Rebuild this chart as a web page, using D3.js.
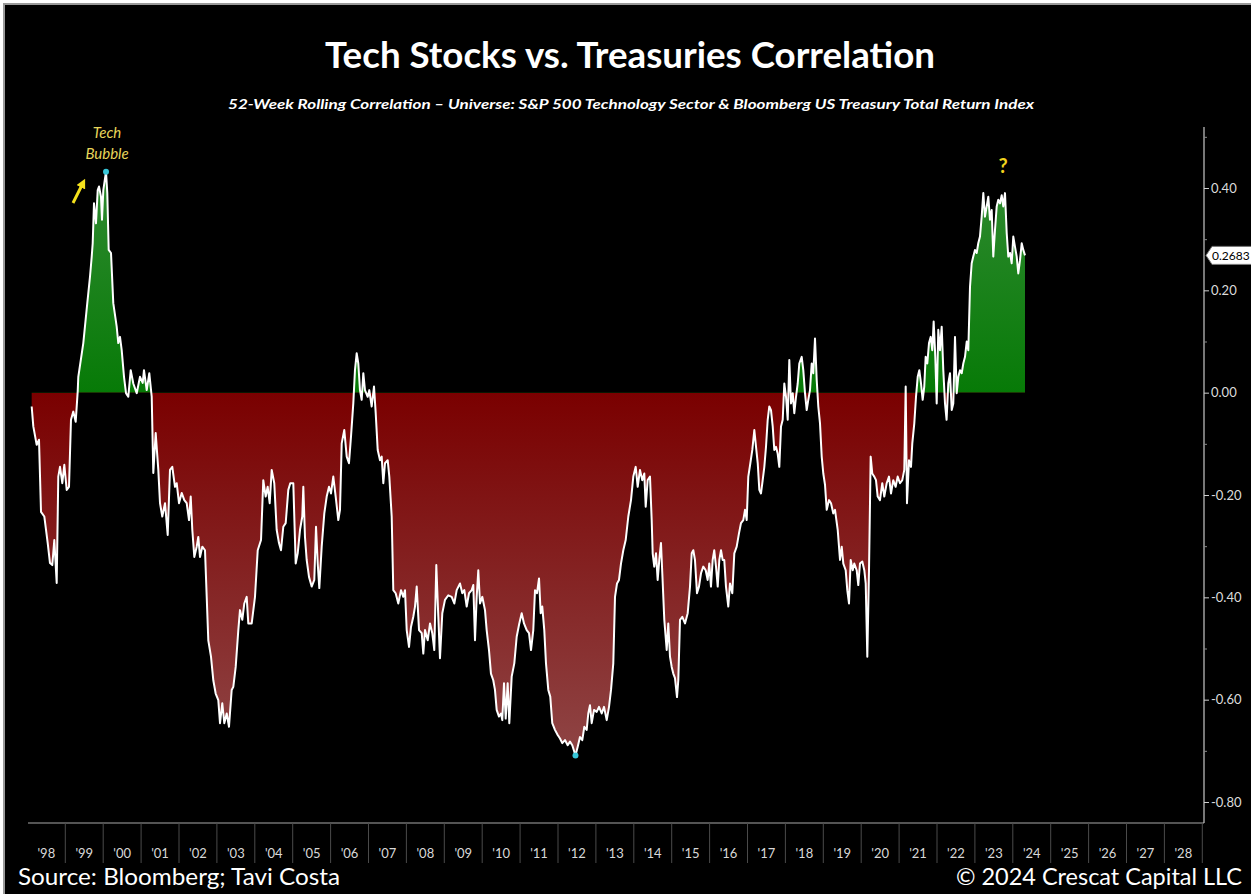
<!DOCTYPE html>
<html>
<head>
<meta charset="utf-8">
<script src="https://cdn.jsdelivr.net/npm/d3@7"></script>
<style>
  html, body { margin: 0; padding: 0; background: #ffffff; }
  svg { display: block; }
</style>
</head>
<body>
<svg id="chart" width="1251" height="894"></svg>
<script>
// 52-week rolling correlation, S&P 500 Tech sector vs. Bloomberg US Treasury TR index.
// Observation times as fractional years, one row per calendar year.
const yearPos = [
  1998.113,1998.156,1998.245,1998.306,1998.359,1998.446,1998.536,1998.596,1998.657,1998.710,1998.773,1998.815,1998.860,1998.921,1998.974,
  1999.037,1999.098,1999.150,1999.211,1999.274,1999.327,1999.343,1999.475,1999.580,1999.652,1999.697,1999.723,1999.757,1999.810,1999.855,1999.889,1999.942,1999.968,
  2000.003,2000.074,2000.108,2000.145,2000.206,2000.266,2000.356,2000.398,2000.443,2000.488,2000.549,2000.602,2000.662,2000.726,2000.794,2000.884,2000.971,
  2001.042,2001.076,2001.148,2001.216,2001.280,2001.322,2001.385,2001.454,2001.499,2001.559,2001.631,2001.702,2001.762,2001.823,2001.894,2001.939,
  2002.000,2002.071,2002.140,2002.203,2002.264,2002.309,2002.351,2002.404,2002.467,2002.509,2002.554,2002.615,2002.686,2002.731,2002.773,2002.844,2002.905,2002.968,
  2003.037,2003.082,2003.142,2003.195,2003.259,2003.319,2003.390,2003.433,2003.496,2003.565,2003.609,2003.670,2003.723,2003.786,2003.828,2003.918,
  2004.005,2004.077,2004.164,2004.224,2004.287,2004.340,2004.393,2004.446,2004.514,2004.577,2004.638,2004.691,2004.752,2004.815,2004.884,2004.936,
  2005.016,2005.079,2005.132,2005.193,2005.253,2005.280,2005.324,2005.369,2005.430,2005.501,2005.570,2005.615,2005.660,2005.702,2005.765,2005.834,2005.897,2005.958,
  2006.011,2006.071,2006.134,2006.203,2006.248,2006.293,2006.361,2006.425,2006.485,2006.538,2006.599,2006.643,2006.688,2006.731,2006.775,2006.820,2006.863,2006.907,2006.979,
  2007.021,2007.084,2007.145,2007.190,2007.243,2007.304,2007.348,2007.391,2007.435,2007.506,2007.549,2007.612,2007.654,2007.717,2007.786,2007.857,2007.918,2007.963,
  2008.008,2008.069,2008.121,2008.182,2008.227,2008.272,2008.333,2008.404,2008.446,2008.491,2008.562,2008.623,2008.683,2008.736,2008.789,2008.842,2008.886,2008.947,
  2009.018,2009.105,2009.195,2009.264,2009.327,2009.414,2009.475,2009.528,2009.591,2009.652,2009.723,2009.765,2009.810,2009.855,2009.897,2009.942,
  2010.002,2010.074,2010.118,2010.179,2010.231,2010.292,2010.337,2010.382,2010.443,2010.496,2010.530,2010.575,2010.620,2010.672,2010.715,2010.778,2010.847,2010.910,2010.979,
  2011.042,2011.103,2011.174,2011.235,2011.288,2011.348,2011.393,2011.446,2011.499,2011.543,2011.585,2011.638,2011.683,2011.744,2011.796,2011.849,2011.920,2011.992,
  2012.053,2012.113,2012.184,2012.256,2012.316,2012.377,2012.461,2012.520,2012.580,2012.641,2012.694,2012.757,2012.799,2012.844,2012.889,2012.950,
  2013.021,2013.082,2013.153,2013.214,2013.285,2013.346,2013.399,2013.459,2013.504,2013.557,2013.609,2013.662,2013.723,2013.786,2013.855,2013.926,2013.987,
  2014.050,2014.103,2014.163,2014.224,2014.277,2014.314,2014.366,2014.427,2014.472,2014.498,2014.540,2014.586,2014.630,2014.672,2014.717,2014.752,2014.805,2014.868,2014.910,2014.955,
  2015.000,2015.042,2015.087,2015.140,2015.174,2015.219,2015.280,2015.351,2015.422,2015.483,2015.528,2015.570,2015.614,2015.667,2015.720,2015.773,2015.833,2015.897,2015.949,2015.991,
  2016.036,2016.081,2016.123,2016.169,2016.214,2016.256,2016.301,2016.345,2016.387,2016.432,2016.493,2016.538,2016.599,2016.652,2016.715,2016.775,2016.828,2016.889,2016.934,2016.979,
  2017.021,2017.075,2017.127,2017.180,2017.225,2017.270,2017.312,2017.356,2017.401,2017.444,2017.488,2017.533,2017.575,2017.620,2017.665,2017.707,2017.752,2017.796,2017.839,2017.884,2017.929,2017.971,
  2018.016,2018.061,2018.103,2018.148,2018.193,2018.235,2018.280,2018.325,2018.367,2018.430,2018.472,2018.517,2018.562,2018.604,2018.649,2018.694,2018.736,2018.781,2018.826,2018.868,2018.913,2018.958,
  2019.000,2019.045,2019.090,2019.151,2019.204,2019.264,2019.309,2019.380,2019.441,2019.486,2019.528,2019.591,2019.633,2019.678,2019.723,2019.776,2019.818,2019.881,2019.923,2019.968,
  2020.029,2020.082,2020.119,2020.161,2020.206,2020.250,2020.292,2020.345,2020.390,2020.435,2020.495,2020.556,2020.609,2020.672,2020.733,2020.786,2020.846,2020.909,2020.962,
  2021.023,2021.084,2021.137,2021.174,2021.208,2021.261,2021.314,2021.348,2021.401,2021.446,2021.491,2021.533,2021.578,2021.622,2021.664,2021.701,2021.744,2021.789,2021.833,2021.875,2021.912,2021.955,2021.992,
  2022.034,2022.079,2022.124,2022.166,2022.211,2022.253,2022.298,2022.343,2022.388,2022.430,2022.475,2022.520,2022.562,2022.607,2022.652,2022.694,2022.739,2022.784,2022.826,2022.871,2022.915,2022.957,
  2023.002,2023.047,2023.089,2023.134,2023.179,2023.222,2023.266,2023.311,2023.354,2023.398,2023.443,2023.485,2023.530,2023.575,2023.617,2023.662,2023.707,2023.749,2023.794,2023.839,2023.881,2023.926,2023.971,
  2024.013,2024.058,2024.103,2024.145,2024.190,2024.235,2024.277,2024.322
];

// Correlation readings, same row layout as yearPos.
const correlation = [
  -0.027,-0.066,-0.102,-0.092,-0.233,-0.242,-0.294,-0.333,-0.337,-0.288,-0.372,-0.164,-0.145,-0.177,-0.141,
  -0.190,-0.184,-0.053,-0.037,-0.057,0.002,0.031,0.097,0.175,0.227,0.266,0.292,0.370,0.331,0.396,0.403,0.383,0.338,
  0.396,0.432,0.390,0.279,0.273,0.175,0.129,0.097,0.109,0.083,0.031,-0.001,-0.008,0.044,0.018,-0.001,0.031,
  0.019,0.044,0.005,0.038,-0.008,-0.157,-0.079,-0.151,-0.216,-0.242,-0.216,-0.278,-0.151,-0.145,-0.184,-0.177,
  -0.216,-0.196,-0.210,-0.216,-0.249,-0.203,-0.268,-0.321,-0.301,-0.282,-0.321,-0.301,-0.308,-0.399,-0.484,-0.516,-0.562,-0.588,
  -0.601,-0.646,-0.607,-0.646,-0.627,-0.653,-0.581,-0.575,-0.536,-0.464,-0.425,-0.444,-0.412,-0.399,-0.451,-0.451,
  -0.399,-0.308,-0.288,-0.171,-0.203,-0.184,-0.216,-0.151,-0.177,-0.268,-0.294,-0.308,-0.262,-0.255,-0.190,-0.177,
  -0.177,-0.334,-0.314,-0.268,-0.242,-0.184,-0.282,-0.327,-0.360,-0.379,-0.366,-0.262,-0.334,-0.382,-0.301,-0.236,-0.203,-0.184,
  -0.197,-0.164,-0.203,-0.249,-0.229,-0.099,-0.073,-0.125,-0.138,-0.086,-0.021,0.044,0.077,0.057,0.005,-0.014,0.038,0.005,-0.008,
  0.005,-0.027,0.012,-0.040,-0.112,-0.132,-0.125,-0.177,-0.138,-0.132,-0.164,-0.242,-0.386,-0.392,-0.412,-0.386,-0.399,-0.386,
  -0.464,-0.497,-0.458,-0.438,-0.418,-0.379,-0.464,-0.470,-0.510,-0.464,-0.484,-0.451,-0.470,-0.503,-0.337,-0.438,-0.519,-0.431,
  -0.405,-0.396,-0.399,-0.412,-0.386,-0.373,-0.392,-0.386,-0.418,-0.392,-0.386,-0.376,-0.484,-0.399,-0.347,-0.412,
  -0.399,-0.425,-0.464,-0.503,-0.549,-0.562,-0.581,-0.620,-0.633,-0.627,-0.640,-0.568,-0.637,-0.568,-0.646,-0.555,-0.529,-0.477,-0.451,
  -0.431,-0.451,-0.464,-0.470,-0.503,-0.464,-0.386,-0.392,-0.363,-0.431,-0.418,-0.464,-0.529,-0.581,-0.594,-0.646,-0.659,-0.669,
  -0.676,-0.685,-0.679,-0.689,-0.682,-0.689,-0.709,-0.692,-0.673,-0.679,-0.653,-0.659,-0.627,-0.611,-0.646,-0.620,
  -0.624,-0.614,-0.627,-0.614,-0.640,-0.614,-0.581,-0.529,-0.399,-0.373,-0.366,-0.334,-0.308,-0.288,-0.242,-0.210,-0.164,
  -0.145,-0.184,-0.151,-0.171,-0.158,-0.223,-0.171,-0.164,-0.249,-0.314,-0.340,-0.314,-0.366,-0.327,-0.294,-0.353,-0.444,-0.503,-0.451,-0.516,
  -0.536,-0.549,-0.558,-0.595,-0.562,-0.444,-0.438,-0.451,-0.431,-0.379,-0.314,-0.308,-0.327,-0.392,-0.379,-0.353,-0.340,-0.347,-0.366,-0.334,
  -0.379,-0.327,-0.308,-0.340,-0.379,-0.327,-0.308,-0.327,-0.327,-0.379,-0.418,-0.373,-0.392,-0.314,-0.301,-0.275,-0.255,-0.249,-0.229,-0.249,
  -0.164,-0.138,-0.112,-0.073,-0.106,-0.138,-0.190,-0.197,-0.171,-0.145,-0.106,-0.053,-0.027,-0.034,-0.066,-0.112,-0.106,-0.119,-0.145,-0.066,-0.053,0.018,
  -0.008,-0.053,0.064,-0.021,-0.001,-0.040,-0.008,0.018,0.057,0.070,0.044,-0.001,-0.034,-0.014,0.005,0.057,0.038,0.106,0.025,-0.027,-0.060,-0.125,
  -0.158,-0.180,-0.229,-0.210,-0.216,-0.236,-0.229,-0.268,-0.327,-0.301,-0.334,-0.347,-0.386,-0.412,-0.327,-0.347,-0.334,-0.347,-0.376,-0.334,
  -0.330,-0.347,-0.373,-0.516,-0.347,-0.125,-0.158,-0.164,-0.171,-0.203,-0.210,-0.177,-0.203,-0.177,-0.164,-0.197,-0.171,-0.184,-0.164,
  -0.177,-0.171,-0.151,0.012,-0.216,-0.132,-0.145,-0.099,-0.060,-0.008,0.031,0.044,0.018,-0.014,0.012,0.070,0.057,0.097,0.109,0.083,0.139,0.070,-0.021,
  0.123,0.083,0.129,0.044,-0.021,-0.053,0.018,0.038,-0.034,-0.021,0.109,-0.001,0.031,0.044,0.038,0.057,0.070,0.100,0.083,0.207,0.253,0.266,
  0.279,0.273,0.292,0.305,0.344,0.390,0.344,0.364,0.383,0.338,0.357,0.266,0.318,0.364,0.377,0.370,0.386,0.364,0.390,0.312,0.266,0.273,0.253,
  0.305,0.285,0.266,0.233,0.259,0.292,0.279,0.2683
];

// Calendar years shown along the bottom axis.
const axisYears = d3.range(1998, 2029);
const yearLabels = axisYears.map(yr => "'" + String(yr).slice(2));

// Right-hand axis ticks.
const majorTicks = [0.4, 0.2, 0.0, -0.2, -0.4, -0.6, -0.8];
const minorTicks = [0.5, 0.3, 0.1, -0.1, -0.3, -0.5, -0.7];

const latestValue = correlation[correlation.length - 1];

const titleText = "Tech Stocks vs. Treasuries Correlation";
const subtitleText = "52-Week Rolling Correlation \u2013 Universe: S&P 500 Technology Sector & Bloomberg US Treasury Total Return Index";
const sourceText = "Source: Bloomberg; Tavi Costa";
const creditText = "\u00A9 2024 Crescat Capital LLC";

// ---------------------------------------------------------------------------
const W = 1251, H = 894;
const plot = { left: 28, right: 1204, top: 127, bottom: 823 };
const font = "Lato, 'Open Sans', sans-serif";

const svg = d3.select("#chart");

// Page frame
svg.append("rect").attr("x", 4).attr("y", 4).attr("width", W - 3).attr("height", H - 3)
  .attr("fill", "#000").attr("stroke", "#9a9a9a").attr("stroke-width", 2);

const x = d3.scaleLinear().domain([1998, 2029]).range([27.4, 1202.3]);
const y = d3.scaleLinear().domain([-0.8, 0.4]).range([802, 188]);

const series = yearPos.map((t, i) => ({ t, v: correlation[i] }));

// Gradients for the positive / negative fills
const defs = svg.append("defs");
const gPos = defs.append("linearGradient").attr("id", "gradPos")
  .attr("gradientUnits", "userSpaceOnUse")
  .attr("x1", 0).attr("x2", 0).attr("y1", y(0.43)).attr("y2", y(0));
gPos.append("stop").attr("offset", 0).attr("stop-color", "#2f8a30");
gPos.append("stop").attr("offset", 1).attr("stop-color", "#077a07");

const gNeg = defs.append("linearGradient").attr("id", "gradNeg")
  .attr("gradientUnits", "userSpaceOnUse")
  .attr("x1", 0).attr("x2", 0).attr("y1", y(0)).attr("y2", y(-0.72));
gNeg.append("stop").attr("offset", 0).attr("stop-color", "#7a0000");
gNeg.append("stop").attr("offset", 1).attr("stop-color", "#8f4646");

defs.append("clipPath").attr("id", "clipPos").append("rect")
  .attr("x", plot.left).attr("y", plot.top)
  .attr("width", plot.right - plot.left).attr("height", y(0) - plot.top);
defs.append("clipPath").attr("id", "clipNeg").append("rect")
  .attr("x", plot.left).attr("y", y(0))
  .attr("width", plot.right - plot.left).attr("height", plot.bottom - y(0));

const area = d3.area()
  .x(d => x(d.t))
  .y0(y(0))
  .y1(d => y(d.v));

svg.append("path").datum(series)
  .attr("d", area).attr("fill", "url(#gradPos)").attr("clip-path", "url(#clipPos)");
svg.append("path").datum(series)
  .attr("d", area).attr("fill", "url(#gradNeg)").attr("clip-path", "url(#clipNeg)");

// Correlation line
const line = d3.line().x(d => x(d.t)).y(d => y(d.v));
svg.append("path").datum(series)
  .attr("d", line)
  .attr("fill", "none")
  .attr("stroke", "#ffffff")
  .attr("stroke-width", 2)
  .attr("stroke-linejoin", "round");

// Extreme points
const iMax = d3.maxIndex(series, d => d.v);
const iMin = d3.minIndex(series, d => d.v);
[iMax, iMin].forEach(i => {
  svg.append("circle")
    .attr("cx", x(series[i].t)).attr("cy", y(series[i].v)).attr("r", 3)
    .attr("fill", "#37c6d8");
});

// Bottom axis line and year separators
svg.append("line")
  .attr("x1", plot.left).attr("x2", plot.right)
  .attr("y1", plot.bottom).attr("y2", plot.bottom)
  .attr("stroke", "#a8a8a8").attr("stroke-width", 1.2);

svg.append("g").selectAll("line")
  .data(axisYears.slice(1).concat([2029]))
  .join("line")
  .attr("x1", d => x(d)).attr("x2", d => x(d))
  .attr("y1", plot.bottom).attr("y2", plot.bottom + 40)
  .attr("stroke", "#4a4a4a").attr("stroke-width", 1);

svg.append("g").selectAll("text")
  .data(axisYears)
  .join("text")
  .attr("x", d => x(d + 0.5))
  .attr("y", plot.bottom + 35)
  .attr("text-anchor", "middle")
  .attr("fill", "#d8d8d8")
  .attr("font-family", font)
  .attr("font-size", 13)
  .text((d, i) => yearLabels[i]);

// Right axis
svg.append("line")
  .attr("x1", plot.right).attr("x2", plot.right)
  .attr("y1", plot.top).attr("y2", plot.bottom)
  .attr("stroke", "#c8c8c8").attr("stroke-width", 1.2);

const yAxis = d3.axisRight(y)
  .tickValues(majorTicks)
  .tickSize(5)
  .tickPadding(2)
  .tickFormat(d => d.toFixed(2));

const gy = svg.append("g")
  .attr("transform", `translate(${plot.right},0)`)
  .call(yAxis);
gy.select(".domain").remove();
gy.selectAll(".tick line").attr("stroke", "#cfcfcf");
gy.selectAll(".tick text")
  .attr("fill", "#dcdcdc")
  .attr("font-family", font)
  .attr("font-size", 13);

const yMinor = d3.axisRight(y).tickValues(minorTicks).tickSize(3).tickFormat("");
const gm = svg.append("g").attr("transform", `translate(${plot.right},0)`).call(yMinor);
gm.select(".domain").remove();
gm.selectAll(".tick line").attr("stroke", "#888");

// Latest value tag
const yv = y(latestValue);
svg.append("path")
  .attr("d", `M${plot.right + 2},${yv} L${plot.right + 8},${yv - 9} L${W + 2},${yv - 9} L${W + 2},${yv + 9} L${plot.right + 8},${yv + 9} Z`)
  .attr("fill", "#ffffff").attr("stroke", "#777").attr("stroke-width", 1);
svg.append("text")
  .attr("x", plot.right + 8).attr("y", yv + 4.5)
  .attr("fill", "#000")
  .attr("font-family", font)
  .attr("font-size", 12)
  .text(latestValue.toFixed(4));

// Titles
svg.append("text")
  .attr("x", 630).attr("y", 68)
  .attr("text-anchor", "middle")
  .attr("fill", "#ffffff")
  .attr("font-family", font)
  .attr("font-weight", "bold")
  .attr("font-size", 36)
  .attr("textLength", 610)
  .attr("lengthAdjust", "spacingAndGlyphs")
  .text(titleText);

svg.append("text")
  .attr("x", 631).attr("y", 109)
  .attr("text-anchor", "middle")
  .attr("fill", "#ffffff")
  .attr("font-family", font)
  .attr("font-weight", "bold")
  .attr("font-style", "italic")
  .attr("font-size", 13.5)
  .attr("textLength", 806)
  .attr("lengthAdjust", "spacingAndGlyphs")
  .text(subtitleText);

// Annotations
const yellowText = "#e8d65a";
svg.append("text")
  .attr("x", x(series[iMax].t) + 1).attr("y", 138)
  .attr("text-anchor", "middle").attr("fill", yellowText)
  .attr("font-family", font)
  .attr("font-style", "italic").attr("font-size", 15)
  .text("Tech");
svg.append("text")
  .attr("x", x(series[iMax].t) + 1).attr("y", 159)
  .attr("text-anchor", "middle").attr("fill", yellowText)
  .attr("font-family", font)
  .attr("font-style", "italic").attr("font-size", 15)
  .text("Bubble");

defs.append("marker").attr("id", "arrowHead")
  .attr("viewBox", "0 0 10 10").attr("refX", 5).attr("refY", 5)
  .attr("markerWidth", 3.2).attr("markerHeight", 3.2)
  .attr("orient", "auto")
  .append("path").attr("d", "M0,0 L10,5 L0,10 Z").attr("fill", "#f4e11c");
svg.append("line")
  .attr("x1", 73).attr("y1", 203).attr("x2", 83).attr("y2", 183)
  .attr("stroke", "#f4e11c").attr("stroke-width", 3)
  .attr("marker-end", "url(#arrowHead)");

svg.append("text")
  .attr("x", 1003).attr("y", 173)
  .attr("text-anchor", "middle").attr("fill", "#f0d21e")
  .attr("font-family", font)
  .attr("font-weight", "bold").attr("font-size", 20)
  .text("?");

// Footer
svg.append("text")
  .attr("x", 18).attr("y", 885)
  .attr("fill", "#ffffff")
  .attr("font-family", font)
  .attr("font-size", 23)
  .attr("textLength", 322)
  .attr("lengthAdjust", "spacingAndGlyphs")
  .text(sourceText);
svg.append("text")
  .attr("x", 1242).attr("y", 885)
  .attr("text-anchor", "end")
  .attr("fill", "#ffffff")
  .attr("font-family", font)
  .attr("font-size", 23)
  .attr("textLength", 286)
  .attr("lengthAdjust", "spacingAndGlyphs")
  .text(creditText);
</script>
</body>
</html>
